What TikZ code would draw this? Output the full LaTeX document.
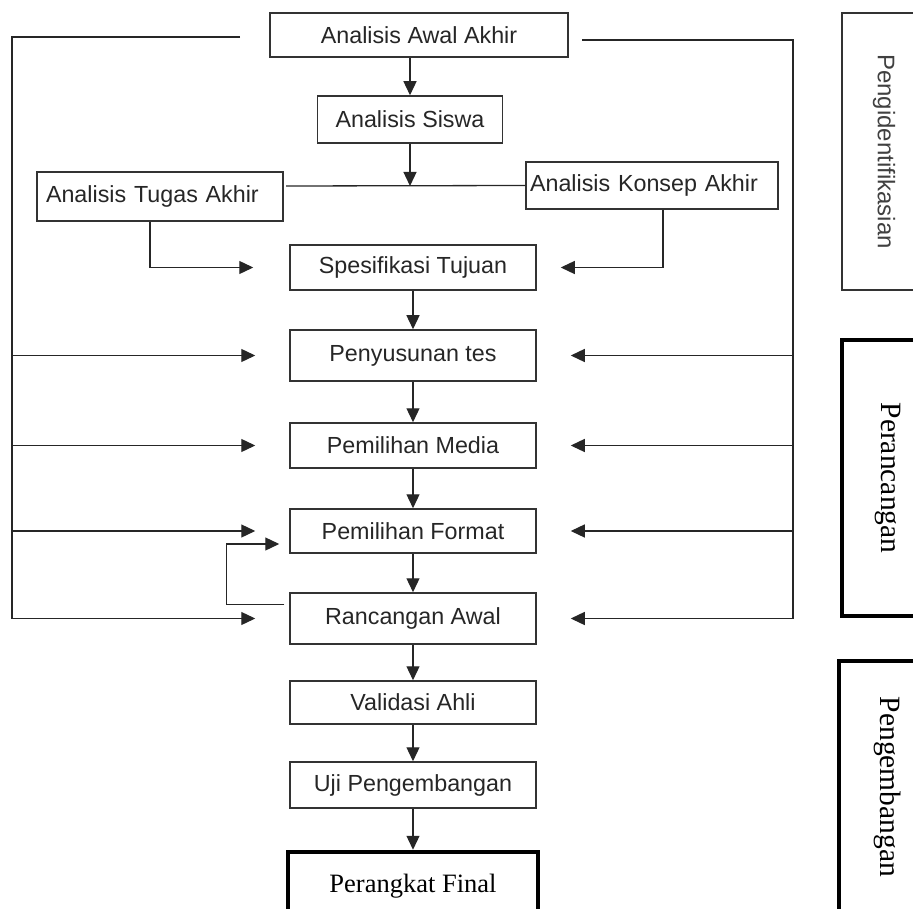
\documentclass[tikz,border=0pt]{standalone}
\usepackage{fontspec}
\setmainfont{Liberation Serif}
\newfontfamily\arial{Liberation Sans}
\usetikzlibrary{arrows.meta}

\begin{document}
\begin{tikzpicture}[x=1pt, y=1pt, >={Triangle[length=14pt,width=13pt]},
  line width=1.3pt, draw=black!85,
  stepbox/.style={draw=black!80, line width=1.5pt, minimum width=246pt, minimum height=46pt,
    font=\arial\fontsize{23.3}{27}\selectfont, text=black!85},
  phasebox/.style={draw=black, line width=4.5pt, rotate=-90, minimum height=86pt,
    font=\fontsize{29.5}{32}\selectfont}]

\useasboundingbox (0,0) rectangle (913,-909);
\clip (0,0) rectangle (913,-909);

% analysis boxes on top
\node[stepbox, minimum width=298pt, minimum height=44pt] (awal) at (419,-35) {Analisis Awal Akhir};
\node[stepbox, minimum width=185pt, minimum height=47pt] (siswa) at (410,-119.5) {Analisis Siswa};
\node[stepbox, minimum height=49pt, text width=228pt, align=left] (tugas) at (160,-196.5) {Analisis Tugas Akhir};
\node[stepbox, minimum height=47pt, inner xsep=4pt, text width=244pt, align=left] (konsep) at (652,-185.5) {Analisis Konsep Akhir};

% main column
\node[stepbox, minimum height=45pt] (tujuan) at (413,-267.5) {Spesifikasi Tujuan};
\node[stepbox, minimum height=51pt] (tes) at (413,-355.5) {Penyusunan tes};
\node[stepbox, minimum height=45pt] (media) at (413,-445.5) {Pemilihan Media};
\node[stepbox, minimum height=44pt] (format) at (413,-531) {Pemilihan Format};
\node[stepbox, minimum height=51pt] (rancangan) at (413,-618.5) {Rancangan Awal};
\node[stepbox, minimum height=43pt] (validasi) at (413,-702.5) {Validasi Ahli};
\node[stepbox, minimum height=46pt] (uji) at (413,-785) {Uji Pengembangan};
\node[stepbox, draw=black, line width=4.5pt, minimum width=250pt, minimum height=68pt,
  font=\fontsize{26.5}{30}\selectfont, text=black] (final) at (413,-886) {Perangkat Final};

% phases on the right
\node[phasebox, draw=black!80, line width=1.3pt, minimum width=277pt, minimum height=84pt,
  font=\arial\fontsize{24}{27}\selectfont, text=black!75] (ident) at (884,-151.5) {Pengidentifikasian};
\node[phasebox, minimum width=276pt, minimum height=92pt] (peran) at (888,-478) {Perancangan};
\node[phasebox, minimum width=252pt, minimum height=98pt] (pengem) at (888,-787) {Pengembangan};

% bus lines and junction
\coordinate (ltop) at (240,-37);
\coordinate (rtop) at (582,-40);
\coordinate (lbus) at (12,0);
\coordinate (rbus) at (793,0);
\coordinate (jl) at (286,-186);

\draw[->] (awal.south -| siswa.north) -- (siswa.north);
\draw[->] (siswa.south) -- (siswa.south |- jl);
\draw (jl) -- (konsep.west);
\draw[->, shorten >=36pt] ([xshift=-10pt]tugas.south) |- (tujuan.west);
\draw[->, shorten >=24pt] ([xshift=11pt]konsep.south) |- (tujuan.east);

\foreach \a/\b in {tujuan/tes, tes/media, media/format, format/rancangan,
  rancangan/validasi, validasi/uji, uji/final}
  \draw[->] (\a.south) -- (\b.north);

\draw[->, shorten >=34pt] (ltop) -| (rancangan.west -| lbus) -- (rancangan.west);
\draw[->, shorten >=34pt] (rtop) -| (rancangan.east -| rbus) -- (rancangan.east);
\foreach \n in {tes, media, format} {
  \draw[->, shorten >=34pt] (\n.west -| lbus) -- (\n.west);
  \draw[->, shorten >=34pt] (\n.east -| rbus) -- (\n.east);
}

% loop back from Rancangan Awal
\draw[->, shorten <=5pt, shorten >=10pt] ([yshift=14pt]rancangan.west) -- ++(-63,0) |- ([yshift=-13pt]format.west);

\end{tikzpicture}
\end{document}
